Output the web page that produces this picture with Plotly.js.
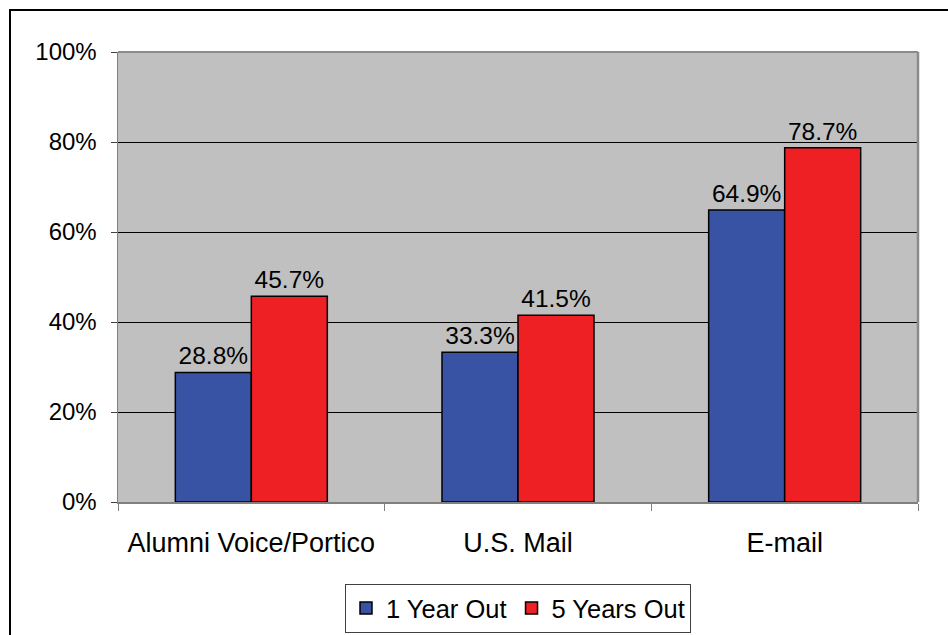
<!DOCTYPE html>
<html>
<head>
<meta charset="utf-8">
<script src="https://cdn.plot.ly/plotly-3.0.1.min.js"></script>
<style>html,body{margin:0;padding:0;background:#fff;}#chart{width:948px;height:635px;}</style>
</head>
<body>
<div id="chart"></div>
<script>
const categories = ["Alumni Voice/Portico", "U.S. Mail", "E-mail"];
const seriesNames = ["1 Year Out", "5 Years Out"];
const oneYearOut = [28.8, 33.3, 64.9];
const fiveYearsOut = [45.7, 41.5, 78.7];
const yTickVals = [0, 20, 40, 60, 80, 100];
const yTickText = ["0%", "20%", "40%", "60%", "80%", "100%"];

const FONT = "Liberation Sans, Arial, sans-serif";
const mk = (name, vals, color) => ({
  type: "bar",
  name: name,
  x: categories,
  y: vals,
  text: vals.map(v => v.toFixed(1) + "%"),
  textposition: "outside",
  textfont: {family: FONT, size: 24.5, color: "#000"},
  cliponaxis: false,
  marker: {color: color, line: {color: "#000", width: 1.5}},
  hoverinfo: "none"
});

const data = [
  mk(seriesNames[0], oneYearOut, "#3953A4"),
  mk(seriesNames[1], fiveYearsOut, "#EE2024")
];

const layout = {
  width: 948, height: 635,
  margin: {l: 118, r: 30, t: 52, b: 133, autoexpand: false},
  paper_bgcolor: "#ffffff",
  plot_bgcolor: "#C0C0C0",
  font: {family: FONT, size: 24, color: "#000"},
  barmode: "group",
  bargap: 0.43,
  bargroupgap: 0,
  showlegend: true,
  legend: {
    orientation: "h", x: 0.5, xanchor: "center", y: -0.182, yanchor: "top",
    bordercolor: "#404040", borderwidth: 1, bgcolor: "#fff",
    font: {family: FONT, size: 25.5, color: "#000"},
    itemwidth: 30, traceorder: "normal"
  },
  xaxis: {
    type: "category",
    tickson: "boundaries",
    ticks: "outside", ticklen: 7, tickcolor: "#808080", tickwidth: 1,
    showline: true, linecolor: "#808080", linewidth: 1.5,
    showgrid: false,
    tickfont: {family: FONT, size: 27, color: "#000"},
    ticklabelstandoff: 16
  },
  yaxis: {
    range: [0, 100],
    tickvals: yTickVals, ticktext: yTickText,
    ticks: "outside", ticklen: 6, tickcolor: "#404040", tickwidth: 1,
    showline: true, linecolor: "#808080", linewidth: 1.5,
    showgrid: true, gridcolor: "#000", gridwidth: 1,
    zeroline: false,
    tickfont: {family: FONT, size: 24, color: "#000"},
    ticklabelstandoff: 9
  },
  shapes: [
    {type: "line", xref: "paper", yref: "paper", x0: 0, x1: 1, y0: 1, y1: 1, line: {color: "#8a8a8a", width: 2}},
    {type: "line", xref: "paper", yref: "paper", x0: 1, x1: 1, y0: 0, y1: 1, line: {color: "#8a8a8a", width: 2.5}},
    {type: "rect", xref: "paper", yref: "paper", x0: -0.135, x1: 1.06, y0: -0.32, y1: 1.0933, line: {color: "#000", width: 2}, layer: "below"}
  ]
};

Plotly.newPlot("chart", data, layout, {displayModeBar: false, staticPlot: true});
</script>
</body>
</html>
